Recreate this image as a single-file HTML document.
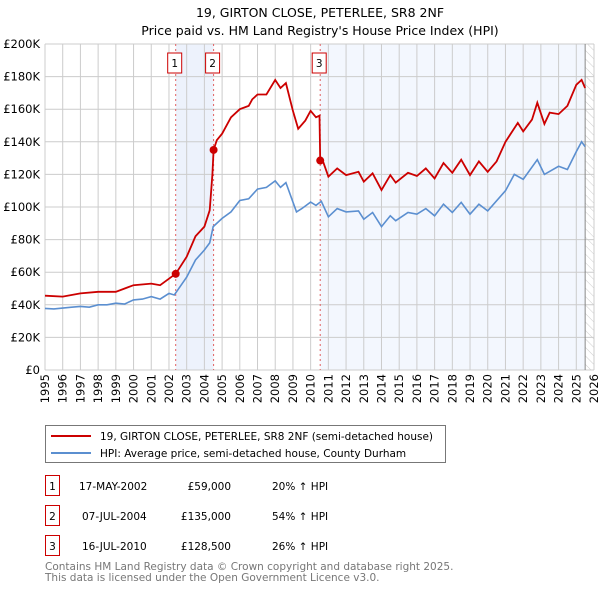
<!DOCTYPE html>
<html><head><meta charset="utf-8"><style>
body{margin:0;background:#fff;font-family:"Liberation Sans","DejaVu Sans",sans-serif;}
svg text{font-family:"DejaVu Sans","Liberation Sans",sans-serif;}
</style></head><body>
<svg id="c" width="600" height="590" viewBox="0 0 600 590">
<defs><pattern id="hatch" width="6" height="6" patternUnits="userSpaceOnUse" patternTransform="rotate(-45)"><line x1="0" y1="0" x2="0" y2="6" stroke="#ccc" stroke-width="1"/></pattern></defs>
<text x="320" y="17" text-anchor="middle" font-size="12.5">19, GIRTON CLOSE, PETERLEE, SR8 2NF</text>
<text x="320" y="35" text-anchor="middle" font-size="12.5">Price paid vs. HM Land Registry's House Price Index (HPI)</text>
<g id="plot"></g>
<g>
<rect x="45.5" y="425.5" width="400" height="37" fill="#fff" stroke="#777"/>
<line x1="51" y1="436" x2="91" y2="436" stroke="#cc0000" stroke-width="2"/>
<text x="100" y="440" font-size="10.5">19, GIRTON CLOSE, PETERLEE, SR8 2NF (semi-detached house)</text>
<line x1="51" y1="453" x2="91" y2="453" stroke="#5b8fd0" stroke-width="2"/>
<text x="100" y="457" font-size="10.5">HPI: Average price, semi-detached house, County Durham</text>
</g>
<g font-size="10.5">
<rect x="45.5" y="475.5" width="14" height="20" fill="#fff" stroke="#cc0000"/><text x="52.5" y="490" text-anchor="middle">1</text>
<text x="79" y="490">17-MAY-2002</text><text x="231" y="490" text-anchor="end">£59,000</text><text x="272" y="490">20% ↑ HPI</text>
<rect x="45.5" y="505.5" width="14" height="20" fill="#fff" stroke="#cc0000"/><text x="52.5" y="520" text-anchor="middle">2</text>
<text x="82" y="520">07-JUL-2004</text><text x="231" y="520" text-anchor="end">£135,000</text><text x="272" y="520">54% ↑ HPI</text>
<rect x="45.5" y="535.5" width="14" height="20" fill="#fff" stroke="#cc0000"/><text x="52.5" y="550" text-anchor="middle">3</text>
<text x="82" y="550">16-JUL-2010</text><text x="231" y="550" text-anchor="end">£128,500</text><text x="272" y="550">26% ↑ HPI</text>
</g>
<text x="45" y="570" font-size="10.5" fill="#777">Contains HM Land Registry data © Crown copyright and database right 2025.</text>
<text x="45" y="581" font-size="10.5" fill="#777">This data is licensed under the Open Government Licence v3.0.</text>
</svg>
<script>
const yTicks=[0,20,40,60,80,100,120,140,160,180,200];
const years=[1995,1996,1997,1998,1999,2000,2001,2002,2003,2004,2005,2006,2007,2008,2009,2010,2011,2012,2013,2014,2015,2016,2017,2018,2019,2020,2021,2022,2023,2024,2025,2026];
const hpiT=[1995,1995.5,1996,1996.5,1997,1997.5,1998,1998.5,1999,1999.5,2000,2000.5,2001,2001.5,2002,2002.3,2003,2003.5,2004,2004.3,2004.5,2005,2005.5,2006,2006.5,2007,2007.5,2008,2008.3,2008.6,2009.2,2009.5,2010,2010.3,2010.6,2011,2011.5,2012,2012.7,2013,2013.5,2014,2014.5,2014.8,2015.5,2016,2016.5,2017,2017.5,2018,2018.5,2019,2019.5,2020,2021,2021.5,2022,2022.8,2023.2,2024,2024.5,2025,2025.3,2025.5];
const hpiV=[37.8,37.5,38,38.5,39,38.5,40,40,41,40.5,43,43.5,45,43.5,47,46,57,67.5,73.6,78,88,93,97,104,105,111,112,116,112,115,97,99,103,101,103.5,94,99,97,97.6,92.5,96.6,88,94.6,91.6,96.6,95.6,99,94.6,101.7,96.6,102.8,95.6,101.7,97.6,110,120,117,129,120,125,123,134,140,137];
const redT=[1995,1996,1997,1998,1999,1999.5,2000,2001,2001.5,2002,2002.38,2003,2003.5,2004,2004.3,2004.45,2004.52,2004.7,2005,2005.5,2006,2006.5,2006.7,2007,2007.5,2008,2008.3,2008.6,2009,2009.3,2009.7,2010,2010.3,2010.5,2010.54,2010.7,2011,2011.5,2012,2012.7,2013,2013.5,2014,2014.5,2014.8,2015.5,2016,2016.5,2017,2017.5,2018,2018.5,2019,2019.5,2020,2020.5,2021,2021.7,2022,2022.5,2022.8,2023.2,2023.5,2024,2024.5,2025,2025.3,2025.5];
const redV=[45.6,45,47,48,48,50,52,53,52,56,59,69.5,82,88,98,120,135,141,145,155,160,162,166,169,169,178,173,176,159,148,153,159,155,156,128.5,128,118.6,123.7,119.6,121.6,115.5,120.7,110.4,119.6,115,121,119,123.7,117.5,127,121,129,119.6,128,121.6,128,140,151.6,146.4,153.6,164,151,157.9,157,162,175,178,173];
const saleT=[2002.38,2004.52,2010.54];
const saleV=[59,135,128.5];
const L=45,R=594,T=44,B=370;
const x=t=>L+(t-1995)/(2026-1995)*(R-L);
const y=v=>B-v/200*(B-T);
const NS='http://www.w3.org/2000/svg';
const g=document.getElementById('plot');
function mk(tag,a){const e=document.createElementNS(NS,tag);for(const k in a)e.setAttribute(k,a[k]);g.appendChild(e);return e;}
let e;
e=mk('rect',{x:x(saleT[0]),y:T,width:x(saleT[1])-x(saleT[0]),height:B-T,fill:'#edf2fc'});


e=mk('rect',{x:x(saleT[2]),y:T,width:x(2025.5)-x(saleT[2]),height:B-T,fill:'#f3f7fe'});


e=mk('rect',{x:x(2025.5),y:T,width:R-x(2025.5),height:B-T,fill:'url(#hatch)'});


yTicks.forEach(v=>{
 e=mk('line',{x1:L,x2:R,y1:y(v),y2:y(v),stroke:'#ccc','stroke-width':1});
 
 
 e=mk('text',{x:40,y:y(v)+4,'text-anchor':'end','font-size':11.5});
 e.textContent=v===0?'£0':'£'+v+'K';
 
 
});
years.forEach(t=>{
 e=mk('line',{x1:x(t),x2:x(t),y1:T,y2:B,stroke:'#ccc','stroke-width':1});
 
 
 e=mk('text',{transform:`translate(${x(t)+4},${B+4}) rotate(-90)`,'text-anchor':'end','font-size':11.5});
 e.textContent=t;
 
 
});
e=mk('line',{x1:x(2025.5),x2:x(2025.5),y1:T,y2:B,stroke:'#888','stroke-width':1});


saleT.forEach((t,i)=>{
 e=mk('line',{x1:x(t),x2:x(t),y1:T,y2:B,stroke:'#e06060','stroke-width':1,'stroke-dasharray':'2,3'});
 
 
 e=mk('rect',{x:x(t)-8,y:53,width:14,height:20,fill:'#fff',stroke:'#cc0000'});
 
 
 e=mk('text',{x:x(t)-1,y:67,'text-anchor':'middle','font-size':10.5});
 e.textContent=String(i+1);
 
 
});
e=mk('path',{d:hpiT.map((t,i)=>(i?'L':'M')+x(t).toFixed(1)+','+y(hpiV[i]).toFixed(1)).join(''),fill:'none',stroke:'#5b8fd0','stroke-width':1.6});


e=mk('path',{d:redT.map((t,i)=>(i?'L':'M')+x(t).toFixed(1)+','+y(redV[i]).toFixed(1)).join(''),fill:'none',stroke:'#cc0000','stroke-width':1.8});


saleT.forEach((t,i)=>{
 e=mk('circle',{cx:x(t),cy:y(saleV[i]),r:4,fill:'#cc0000'});
 
 
});
</script>
</body></html>
